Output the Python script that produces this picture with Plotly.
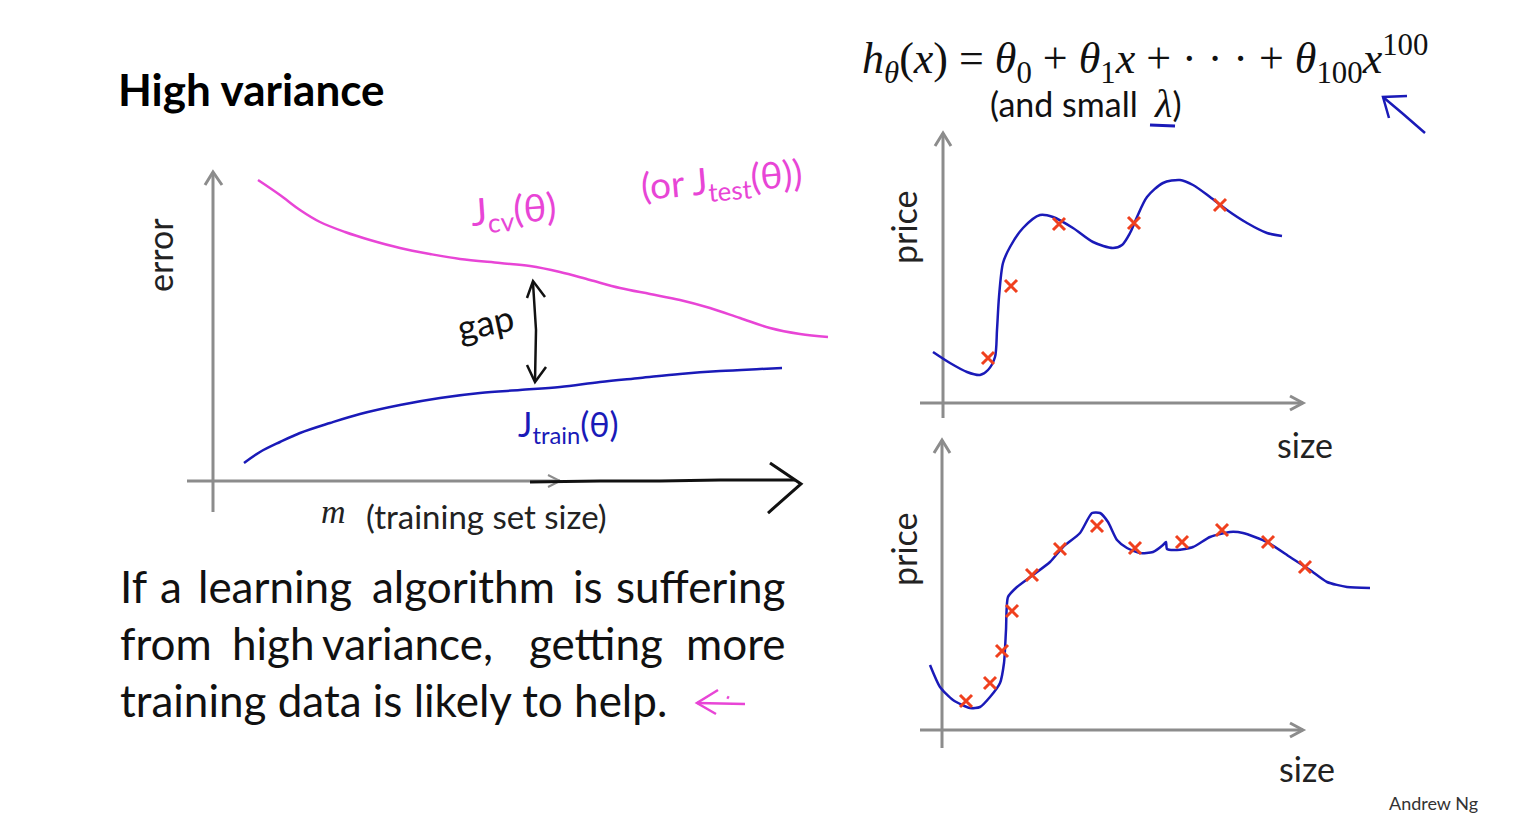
import plotly.graph_objects as go

W, H = 1539, 821

# ---------------- data: learning curves (m = training set size, error) ----------------
m_cv = [4.5, 6.7, 8.7, 10.7, 13.2, 15.7, 18.7, 21.7, 24.7, 28.7, 31.7, 34.7, 37.7,
        40.7, 43.7, 46.7, 49.7, 52.7, 55.7, 58.7, 61.5]
err_cv = [30.1, 28.6, 27.1, 25.9, 24.9, 24.1, 23.3, 22.7, 22.2, 21.8, 21.5, 20.9, 20.1,
          19.3, 18.7, 18.1, 17.3, 16.3, 15.3, 14.7, 14.4]
m_train = [3.1, 4.7, 6.7, 8.7, 11.7, 14.7, 18.7, 22.7, 26.7, 30.7, 34.7, 38.7, 42.7,
           46.7, 50.7, 54.7, 56.9]
err_train = [1.8, 2.9, 3.9, 4.8, 5.8, 6.7, 7.6, 8.3, 8.8, 9.1, 9.4, 9.9, 10.3,
             10.7, 11.0, 11.2, 11.3]

# ---------------- data: top fit (few training points) ----------------
size_fit_top = [-1.0, 0.7, 2.4, 3.7, 4.5, 5.2, 5.4, 5.6, 6.0, 6.7, 8.0, 9.7, 11.0, 13.0,
                15.0, 17.0, 17.9, 18.7, 19.4, 20.4, 22.0, 23.7, 25.0, 26.7, 28.4, 30.4,
                32.4, 33.9]
price_fit_top = [5.1, 4.0, 3.1, 2.8, 3.3, 4.6, 7.3, 10.6, 14.0, 15.6, 17.5, 18.8, 18.6,
                 17.5, 16.1, 15.5, 15.8, 17.0, 18.6, 20.6, 22.0, 22.3, 21.8, 20.6, 19.3,
                 18.0, 17.0, 16.7]
size_pts_top = [4.5, 6.8, 11.6, 19.1, 27.7]
price_pts_top = [4.5, 11.7, 17.9, 18.0, 19.8]

# ---------------- data: bottom fit (more training points) ----------------
size_fit_bot = [-1.2, -0.2, 1.1, 2.8, 3.8, 4.8, 5.8, 6.2, 6.4, 6.6, 7.5, 9.1, 10.8, 12.1,
                13.8, 15.0, 15.8, 16.6, 17.5, 18.5, 19.8, 21.1, 22.1, 22.4, 22.5, 23.5,
                25.1, 26.8, 28.8, 30.1, 32.5, 34.8, 36.8, 38.5, 40.5, 42.8]
price_fit_bot = [6.5, 4.3, 3.0, 2.2, 2.3, 3.3, 4.7, 6.7, 10.0, 13.3, 14.3, 15.5, 16.8, 18.3,
                 19.7, 21.7, 21.7, 20.8, 19.0, 18.2, 17.7, 17.8, 18.5, 18.8, 18.1, 18.0,
                 18.3, 19.3, 19.8, 19.7, 18.8, 17.3, 16.0, 14.8, 14.3, 14.2]
size_pts_bot = [2.4, 4.8, 6.0, 7.0, 9.0, 11.8, 15.5, 19.3, 24.0, 28.0, 32.6, 36.3]
price_pts_bot = [2.9, 4.7, 7.9, 11.9, 15.5, 18.1, 20.4, 18.2, 18.8, 20.0, 18.8, 16.3]

# ---------------- text ----------------
title_text = "High variance"
body_line1 = ["If", "a", "learning", "algorithm", "is", "suffering"]
body_line2 = ["from", "high", "variance,", "getting", "more"]
body_line3 = "training data is likely to help."

MAGENTA = "#e845d6"
BLUE = "#1a1ab8"
RED = "#f0401e"
GRAY = "#8c8c8c"
SANS = "Lato"
SERIF = "Liberation Serif"


def px(x):
    return x / W


def py(y):
    return 1 - y / H


def path(points):
    return "M " + " L ".join(f"{px(x):.5f},{py(y):.5f}" for x, y in points)


fig = go.Figure()

# learning curves
fig.add_trace(go.Scatter(x=m_cv, y=err_cv, mode="lines", line=dict(color=MAGENTA, width=2.5, shape="spline"),
                         xaxis="x", yaxis="y", showlegend=False, hoverinfo="skip"))
fig.add_trace(go.Scatter(x=m_train, y=err_train, mode="lines", line=dict(color=BLUE, width=2.5, shape="spline"),
                         xaxis="x", yaxis="y", showlegend=False, hoverinfo="skip"))

# top fit
fig.add_trace(go.Scatter(x=size_fit_top, y=price_fit_top, mode="lines",
                         line=dict(color=BLUE, width=2.5, shape="spline", smoothing=0.8),
                         xaxis="x2", yaxis="y2", showlegend=False, hoverinfo="skip"))
fig.add_trace(go.Scatter(x=size_pts_top, y=price_pts_top, mode="markers",
                         marker=dict(symbol="x-thin-open", size=12, color=RED, line=dict(color=RED, width=3)),
                         xaxis="x2", yaxis="y2", showlegend=False, hoverinfo="skip"))

# bottom fit
fig.add_trace(go.Scatter(x=size_fit_bot, y=price_fit_bot, mode="lines",
                         line=dict(color=BLUE, width=2.5, shape="spline", smoothing=0.6),
                         xaxis="x3", yaxis="y3", showlegend=False, hoverinfo="skip"))
fig.add_trace(go.Scatter(x=size_pts_bot, y=price_pts_bot, mode="markers",
                         marker=dict(symbol="x-thin-open", size=12, color=RED, line=dict(color=RED, width=3)),
                         xaxis="x3", yaxis="y3", showlegend=False, hoverinfo="skip"))

ax_common = dict(visible=False, fixedrange=True)
fig.update_layout(
    width=W, height=H, margin=dict(l=0, r=0, t=0, b=0),
    paper_bgcolor="white", plot_bgcolor="rgba(0,0,0,0)",
    xaxis=dict(domain=[px(140), px(840)], range=[-7.3, 62.7], **ax_common),
    yaxis=dict(domain=[py(530), py(150)], range=[-4.9, 33.1], **ax_common),
    xaxis2=dict(domain=[px(900), px(1340)], range=[-4.3, 39.7], anchor="y2", **ax_common),
    yaxis2=dict(domain=[py(425), py(120)], range=[-2.2, 28.3], anchor="x2", **ax_common),
    xaxis3=dict(domain=[px(900), px(1390)], range=[-4.2, 44.8], anchor="y3", **ax_common),
    yaxis3=dict(domain=[py(790), py(430)], range=[-6.0, 30.0], anchor="x3", **ax_common),
)

shapes = []


def stroke(points, color, width=3):
    shapes.append(dict(type="path", xref="paper", yref="paper", path=path(points),
                       line=dict(color=color, width=width), layer="below"))


# gray axes, left chart
stroke([(213, 512), (213, 172)], GRAY)
stroke([(205, 185), (213, 172), (222, 185)], GRAY)
stroke([(187, 481), (560, 481)], GRAY)
stroke([(548, 475), (560, 481), (548, 487)], GRAY, 2)
# black hand-drawn extension of m-axis
stroke([(530, 482), (600, 481), (660, 481), (720, 480), (795, 480)], "#111111", 3)
stroke([(770, 463), (801, 484), (768, 513)], "#111111", 3)
# gap arrow
stroke([(533, 283), (536, 330), (535, 381)], "#111111", 2.5)
stroke([(527, 298), (533, 281), (545, 297)], "#111111", 2.5)
stroke([(527, 365), (535, 382), (546, 367)], "#111111", 2.5)

# top-right axes
stroke([(943, 418), (943, 133)], GRAY)
stroke([(935, 146), (943, 133), (951, 146)], GRAY)
stroke([(920, 403), (1303, 403)], GRAY)
stroke([(1290, 396), (1303, 403), (1290, 410)], GRAY)
# bottom-right axes
stroke([(942, 748), (942, 440)], GRAY)
stroke([(934, 453), (942, 440), (950, 453)], GRAY)
stroke([(920, 730), (1303, 730)], GRAY)
stroke([(1290, 723), (1303, 730), (1290, 737)], GRAY)

# pink hand arrow next to the text
stroke([(697, 703), (745, 704)], MAGENTA, 2.5)
stroke([(718, 690), (697, 703), (716, 714)], MAGENTA, 2.5)
stroke([(727, 697), (729, 698)], MAGENTA, 3)
# blue underline of lambda and blue arrow
stroke([(1150, 125), (1175, 126)], BLUE, 3)
stroke([(1425, 133), (1402, 113), (1383, 97)], BLUE, 2.5)
stroke([(1407, 96), (1383, 97), (1389, 118)], BLUE, 2.5)

fig.update_layout(shapes=shapes)

ann = []


def text(x, y, s, size, color="#111111", xanchor="left", family=SANS, angle=0):
    ann.append(dict(x=px(x), y=py(y), xref="paper", yref="paper", text=s, showarrow=False,
                    xanchor=xanchor, yanchor="middle", textangle=angle,
                    font=dict(family=family, size=size, color=color)))


text(116, 89, f"<b>{title_text}</b>", 44, "#000000")
text(160, 255, "error", 34, "#222222", "center", angle=-90)
text(333, 511, "<i>m</i>", 34, "#222222", "center", family=SERIF)
text(364, 516, "(training set size)", 33, "#222222")

# justified body text (lines 1 and 2 word by word)
line1_x = [118, 158, 196, 370, 571, 787]
for i, (w, x) in enumerate(zip(body_line1, line1_x)):
    text(x, 586, w, 44, "#111111", "right" if i == len(body_line1) - 1 else "left")
line2_x = [118, 230, 320, 527, 787]
for i, (w, x) in enumerate(zip(body_line2, line2_x)):
    text(x, 643, w, 44, "#111111", "right" if i == len(body_line2) - 1 else "left")
text(118, 700, body_line3, 44, "#111111")

# formula
formula = ("<i>h</i><sub><i>θ</i></sub>(<i>x</i>) = <i>θ</i><sub>0</sub> + <i>θ</i><sub>1</sub><i>x</i>"
           " + · · · + <i>θ</i><sub>100</sub><i>x</i><sup>100</sup>")
text(860, 59, formula, 44, "#111111", family=SERIF)
text(988, 103, "(and small  <span style='font-family:Liberation Serif;font-size:40px'><i>λ</i></span>)",
     34, "#111111")

text(903, 228, "price", 34, "#222222", "center", angle=-90)
text(903, 550, "price", 34, "#222222", "center", angle=-90)
text(1305, 444, "size", 34, "#222222", "center")
text(1307, 768, "size", 34, "#222222", "center")
text(1433, 803, "Andrew Ng", 18, "#333333", "center")

# handwritten labels
text(513, 211, "J<sub>cv</sub>(θ)", 38, MAGENTA, "center", angle=-4)
text(722, 182, "(or J<sub>test</sub>(θ))", 37, MAGENTA, "center", angle=-5)
text(568, 426, "J<sub>train</sub>(θ)", 34, BLUE, "center")
text(485, 322, "gap", 36, "#111111", "center", angle=-12)

fig.update_layout(annotations=ann)

fig.write_html("out.html", config={"displayModeBar": False},
               post_script="document.body.style.margin='0';document.body.style.overflow='hidden';")
